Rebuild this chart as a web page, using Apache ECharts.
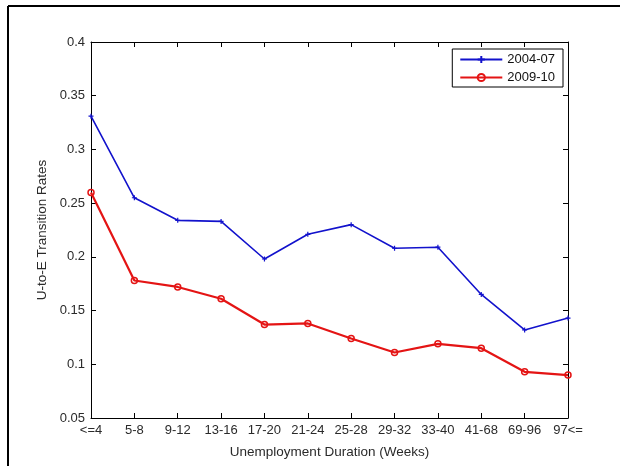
<!DOCTYPE html>
<html>
<head>
<meta charset="utf-8">
<script src="https://cdn.jsdelivr.net/npm/echarts@6/dist/echarts.min.js"></script>
<style>
html,body{margin:0;padding:0;background:#fff;}
#main{width:620px;height:466px;}
</style>
</head>
<body>
<div id="main"></div>
<script>
var categories = ['<=4','5-8','9-12','13-16','17-20','21-24','25-28','29-32','33-40','41-68','69-96','97<='];
var series2004 = [0.331,0.255,0.234,0.233,0.198,0.221,0.230,0.208,0.209,0.165,0.132,0.143];
var series2009 = [0.260,0.178,0.172,0.161,0.137,0.138,0.124,0.111,0.119,0.115,0.093,0.090];
var yTickLabels = ['0.05','0.1','0.15','0.2','0.25','0.3','0.35','0.4'];

var chart = echarts.init(document.getElementById('main'), null, {renderer:'canvas'});
var font = 'Liberation Sans, Arial, sans-serif';
var plusPath = 'path://M0,5L10,5M5,0L5,10';
var textColor = '#2a2a2a';
var option = {
  backgroundColor:'#fff',
  animation:false,
  graphic:[
    {type:'line', shape:{x1:8,y1:6,x2:620,y2:6}, style:{stroke:'#000', lineWidth:2}},
    {type:'line', shape:{x1:8,y1:6,x2:8,y2:466}, style:{stroke:'#000', lineWidth:2}}
  ],
  grid:{left:91,right:52,top:42,bottom:48},
  legend:{
    orient:'vertical', right:57, top:49,
    backgroundColor:'#fff', borderColor:'#000', borderWidth:1,
    padding:[4,8,3,7], itemWidth:42, itemHeight:9, itemGap:5,
    textStyle:{fontFamily:font, fontSize:13, color:'#111'},
    data:['2004-07','2009-10']
  },
  xAxis:[{
    type:'category', data:categories, boundaryGap:false,
    axisLine:{lineStyle:{color:'#000',width:1}},
    axisTick:{inside:true,length:5,lineStyle:{color:'#000'}},
    axisLabel:{margin:6, fontFamily:font, fontSize:13, color:textColor, interval:0},
    splitLine:{show:false},
    name:'Unemployment Duration (Weeks)', nameLocation:'middle', nameGap:27,
    nameTextStyle:{fontFamily:font, fontSize:13.5, color:textColor}
  },{
    type:'category', data:categories, boundaryGap:false, position:'top',
    axisLine:{lineStyle:{color:'#000',width:1}},
    axisTick:{inside:true,length:5,lineStyle:{color:'#000'}},
    axisLabel:{show:false}, splitLine:{show:false}
  }],
  yAxis:[{
    type:'value', min:0.05, max:0.4, interval:0.05,
    axisLine:{show:true,lineStyle:{color:'#000',width:1}},
    axisTick:{show:true,inside:true,length:5,lineStyle:{color:'#000'}},
    axisLabel:{margin:6, fontFamily:font, fontSize:13, color:textColor,
      formatter:function(v){ var i=Math.round((v-0.05)/0.05); return yTickLabels[i]; }},
    splitLine:{show:false},
    name:'U-to-E Transition Rates', nameLocation:'middle', nameGap:41,
    nameTextStyle:{fontFamily:font, fontSize:13.5, color:textColor}
  },{
    type:'value', min:0.05, max:0.4, interval:0.05, position:'right',
    axisLine:{show:true,lineStyle:{color:'#000',width:1}},
    axisTick:{show:true,inside:true,length:5,lineStyle:{color:'#000'}},
    axisLabel:{show:false}, splitLine:{show:false}
  }],
  series:[{
    name:'2004-07', type:'line', data:series2004,
    xAxisIndex:0, yAxisIndex:0,
    symbol:plusPath, symbolSize:5, showAllSymbol:true,
    lineStyle:{color:'#1212cc', width:1.6},
    itemStyle:{color:'#1212cc', borderColor:'#1212cc', borderWidth:1.2}
  },{
    name:'2009-10', type:'line', data:series2009,
    xAxisIndex:0, yAxisIndex:0,
    symbol:'circle', symbolSize:6, showAllSymbol:true,
    lineStyle:{color:'#e41414', width:2.2},
    itemStyle:{color:'rgba(255,255,255,0)', borderColor:'#e41414', borderWidth:1.5}
  }]
};
chart.setOption(option);
</script>
</body>
</html>
